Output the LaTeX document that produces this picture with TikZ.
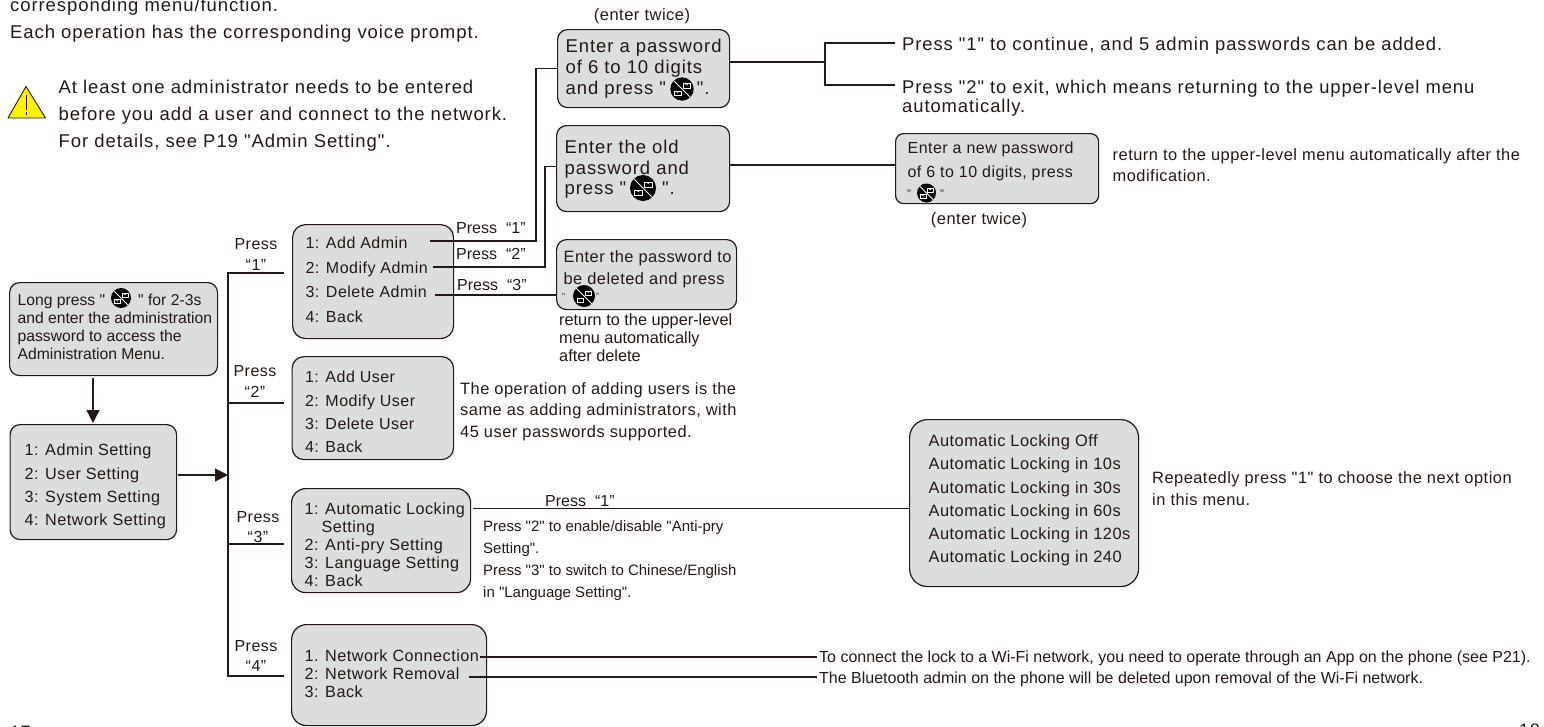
\documentclass[tikz,border=0pt]{standalone}
\usepackage{fontspec}
\setmainfont{Liberation Sans}
\newfontfamily\fplain{Liberation Sans}
\newfontfamily\fwide[LetterSpace=5]{Liberation Sans}
\newfontfamily\fmid[LetterSpace=3]{Liberation Sans}
\newcommand\fsz[2]{\fontsize{#1}{#2}\selectfont}
% box contents: width, height, left pad, first baseline offset, font, lines
\newcommand\bx[6]{\parbox[c][#2pt][t]{#1pt}{\setlength{\parindent}{0pt}\setlength{\leftskip}{#3pt}\lineskiplimit=-20pt #5\rule{0pt}{#4pt}#6}}
\definecolor{ink}{HTML}{231815}
\definecolor{panel}{HTML}{DCDDDD}
\usetikzlibrary{arrows.meta}
\tikzset{
  menubox/.style={draw=ink,fill=panel,line width=1.2pt,inner sep=0pt,anchor=north west,rounded corners=10pt,text=ink},
  label/.style={inner sep=0pt,anchor=base west,align=left,text=ink},
  clabel/.style={inner sep=0pt,anchor=base,align=center,text=ink},
  conn/.style={draw=ink,line width=1.1pt},
  arr/.style={draw=ink,line width=1.2pt,-{Triangle[width=13pt,length=13pt]}},
  pics/lockicon/.style={code={
    \fill[black] (0,0) circle (10);
    \draw[white,line width=.8pt] (-7.2,-7.2) -- (7.2,7.2);
    \draw[white,line width=.5pt] (1.2,-4.6) rectangle (7,-.8);
    \draw[white,line width=.5pt] (2.6,-4.6) arc (180:0:1.4);
    \draw[white,line width=.5pt] (-6.4,1.6) rectangle (-.6,5.6);
    \draw[white,line width=.5pt] (-5,1.6) arc (180:0:1.4);
  }}
}
\begin{document}
\begin{tikzpicture}[x=1pt,y=-1pt]
\useasboundingbox (0,0) rectangle (1544,726);
% top text
\node[label,font=\fwide\fsz{18.5}{27}] (intro) at (10,38) {corresponding menu/function.\\Each operation has the corresponding voice prompt.};
\node[label,font=\fwide\fsz{18.5}{27}] (warn) at (58.5,147) {At least one administrator needs to be entered\\before you add a user and connect to the network.\\For details, see P19 "Admin Setting".};
\path[draw=ink,fill=yellow,line width=.9pt,line join=round] (26,86.5) -- (45.5,118) -- (8,118) -- cycle;
\draw[ink,line width=.9pt] (26,95) -- (26,110);
\draw[ink,line width=.9pt] (26,112) -- (26,114.5);
% left boxes
\node[menubox] (longbox) at (9,282) {\bx{208}{93}{8}{23}{\fplain\fsz{15.7}{18}}{Long press "\hspace{33pt}" for 2-3s\\and enter the administration\\password to access the\\Administration Menu.}};
\pic[scale=1] at (121,298) {lockicon};
\node[menubox] (mainbox) at (9.5,424) {\bx{166.5}{115}{14.5}{31}{\fmid\fsz{16.2}{23.4}}{1: Admin Setting\\2: User Setting\\3: System Setting\\4: Network Setting}};
\coordinate (longout) at (93,378);
\coordinate (mainin) at (93,423);
\coordinate (mainout) at (178,475);
\coordinate (bushit) at (228,475);
\draw[arr] (longout) -- (mainin);
\draw[arr] (mainout) -- (bushit);
% bus
\coordinate (bustop) at (228,273);
\coordinate (bustwo) at (228,403);
\coordinate (busthree) at (228,544);
\coordinate (busend) at (228,676);
\draw[conn,line cap=rect] (bustop) -- (busend);
\draw[conn] (bustop) -- ++(56,0);
\draw[conn] (bustwo) -- ++(56,0);
\draw[conn] (busthree) -- ++(56,0);
\draw[conn] (busend) -- ++(56,0);
\node[clabel,font=\fmid\fsz{16}{21}] (pr1) at (256,270) {Press\\“1”};
\node[clabel,font=\fmid\fsz{16}{21}] (pr2) at (255,397) {Press\\“2”};
\node[clabel,font=\fmid\fsz{16}{20}] (pr3) at (258,542) {Press\\“3”};
\node[clabel,font=\fmid\fsz{16}{20}] (pr4) at (256,671) {Press\\“4”};
% menus
\node[menubox,rounded corners=13pt] (adminbox) at (292,224) {\bx{161}{114}{13}{24}{\fmid\fsz{16}{24.6}}{1: Add Admin\\2: Modify Admin\\3: Delete Admin\\4: Back}};
\node[menubox,rounded corners=12pt] (userbox) at (291.5,356) {\bx{161.5}{103}{13}{26}{\fmid\fsz{16}{23.4}}{1: Add User\\2: Modify User\\3: Delete User\\4: Back}};
\node[menubox,rounded corners=14pt] (sysbox) at (291,488) {\bx{179}{104}{13}{26}{\fmid\fsz{16.2}{18}}{1: Automatic Locking\\\hspace*{17pt}Setting\\2: Anti-pry Setting\\3: Language Setting\\4: Back}};
\node[menubox,rounded corners=15pt] (netbox) at (291,624) {\bx{195}{101}{13}{37}{\fmid\fsz{16.2}{18}}{1. Network Connection\\2: Network Removal\\3: Back}};
% password boxes
\node[menubox] (pwdbox) at (557,29) {\bx{172}{78}{8}{23}{\fwide\fsz{18.5}{21}}{Enter a password\\of 6 to 10 digits\\and press "\hspace{31pt}".}};
\pic[scale=1.17] at (682,89) {lockicon};
\node[menubox] (oldbox) at (556,125) {\bx{173}{86}{8}{28}{\fwide\fsz{18.5}{20.5}}{Enter the old\\password and\\press "\hspace{36pt}".}};
\pic[scale=1.3] at (643,188) {lockicon};
\node[menubox] (delbox) at (556,239) {\bx{180}{70}{7}{23}{\fmid\fsz{16.4}{22}}{Enter the password to\\be deleted and press}};
\pic[scale=1.1] at (584,296) {lockicon};
\node[label,font=\fplain\fsz{9}{9}] (delq) at (562,299) {“\hspace{31pt}”};
\node[menubox,rounded corners=8pt] (newbox) at (895,133) {\bx{203}{70}{12}{20}{\fmid\fsz{16}{24}}{Enter a new password\\of 6 to 10 digits, press}};
\pic[scale=.95] at (926.5,193) {lockicon};
\node[label,font=\fplain\fsz{11}{11}] (newq) at (907,197) {"\hspace{29pt}"};
% connectors from the admin menu
\coordinate (addadm) at (430,241);
\coordinate (modadm) at (433,267);
\coordinate (deladm) at (435,295);
\draw[conn] (addadm) -- ++(106,0) |- (pwdbox.west);
\draw[conn] (modadm) -- ++(112,0) |- ([yshift=2pt]oldbox.west);
\draw[conn] (deladm) -- (deladm -| delbox.west);
\node[label,font=\fplain\fsz{16}{16}] (p1) at (456,233) {Press\hspace{9pt}“1”};
\node[label,font=\fplain\fsz{16}{16}] (p2) at (456,259) {Press\hspace{9pt}“2”};
\node[label,font=\fplain\fsz{16}{16}] (p3) at (457,290) {Press\hspace{9pt}“3”};
\node[clabel,font=\fmid\fsz{16.5}{16}] (tw1) at (642,20) {(enter twice)};
\node[clabel,font=\fmid\fsz{16.5}{16}] (tw2) at (979,224) {(enter twice)};
% fork
\coordinate (pwout) at (729,62);
\coordinate (forkj) at (825,62);
\coordinate (forka) at (825,43);
\coordinate (forkb) at (825,85);
\coordinate (forkae) at (895,43);
\coordinate (forkbe) at (895,85);
\draw[conn] (pwout) -- (forkj);
\draw[conn] (forkae) -- (forka) -- (forkb) -- (forkbe);
\node[label,font=\fwide\fsz{18.4}{19}] (ft1) at (902,50) {Press "1" to continue, and 5 admin passwords can be added.};
\node[label,font=\fwide\fsz{18.4}{19}] (ft2) at (902,112) {Press "2" to exit, which means returning to the upper-level menu\\automatically.};
\coordinate (oldout) at (729,165);
\draw[conn] (oldout) -- (oldout -| newbox.west);
\node[label,font=\fmid\fsz{16.4}{21}] (rt1) at (1112.5,181) {return to the upper-level menu automatically after the\\modification.};
\node[label,font=\fplain\fsz{16.3}{18}] (rt2) at (559,361) {return to the upper-level\\menu automatically\\after delete};
\node[label,font=\fmid\fsz{16.4}{21.5}] (ut) at (460,437) {The operation of adding users is the\\same as adding administrators, with\\45 user passwords supported.};
% automatic locking
\node[menubox,rounded corners=18pt] (autobox) at (909,419) {\bx{229}{167}{19}{27}{\fmid\fsz{16.4}{23.2}}{Automatic Locking Off\\Automatic Locking in 10s\\Automatic Locking in 30s\\Automatic Locking in 60s\\Automatic Locking in 120s\\Automatic Locking in 240}};
\coordinate (sysout) at (473,508.5);
\draw[conn] (sysout) -- (sysout -| autobox.west);
\node[label,font=\fplain\fsz{16}{16}] (p4) at (545,506) {Press\hspace{9pt}“1”};
\node[label,font=\fplain\fsz{15}{21.7}] (st) at (483,597) {Press "2" to enable/disable "Anti-pry\\Setting".\\Press "3" to switch to Chinese/English\\in "Language Setting".};
\node[label,font=\fmid\fsz{16.4}{22}] (rp) at (1152,505) {Repeatedly press "1" to choose the next option\\in this menu.};
% network
\coordinate (netout) at (480,657);
\coordinate (remout) at (469,677);
\coordinate (netend) at (817,657);
\coordinate (remend) at (817,677);
\node[label,font=\fplain\fsz{16}{21}] (nt) at (819,683) {To connect the lock to a Wi-Fi network, you need to operate through an App on the phone (see P21).\\The Bluetooth admin on the phone will be deleted upon removal of the Wi-Fi network.};
\draw[conn] (netout) -- (netend);
\draw[conn] (remout) -- (remend);
% page numbers
\node[label,font=\fmid\fsz{18}{18}] (pg1) at (10,738) {17};
\node[label,font=\fmid\fsz{18}{18}] (pg2) at (1519,736) {18};
\end{tikzpicture}
\end{document}
